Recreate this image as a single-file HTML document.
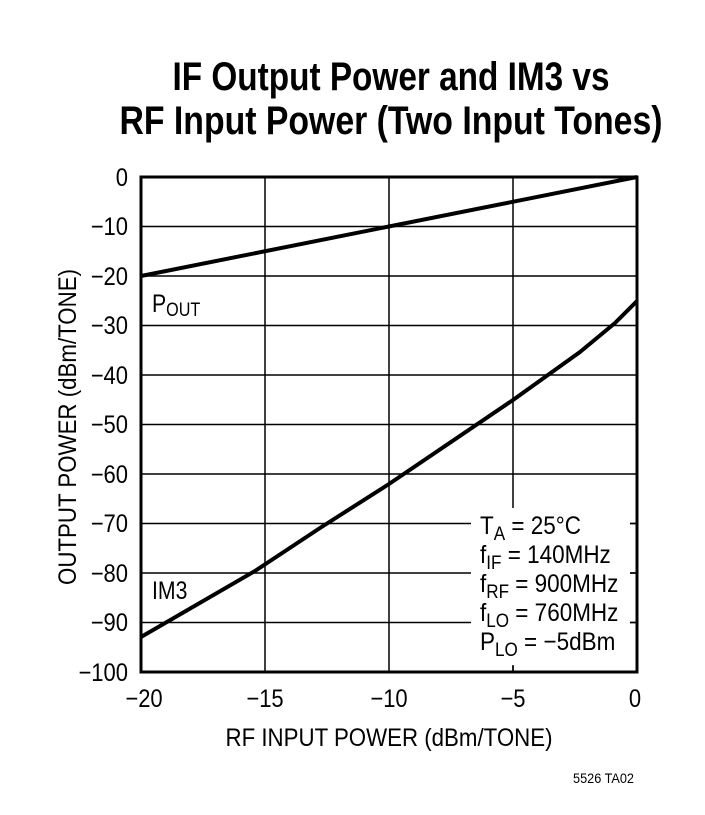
<!DOCTYPE html>
<html><head><meta charset="utf-8"><style>
html,body{margin:0;padding:0;background:#fff;}
svg{display:block;font-family:"Liberation Sans",sans-serif;}
</style></head><body>
<svg width="705" height="815" viewBox="0 0 705 815" xmlns="http://www.w3.org/2000/svg">
<rect width="705" height="815" fill="#fff"/>
<text x="391" y="90" text-anchor="middle" font-size="40" font-weight="bold" textLength="437" lengthAdjust="spacingAndGlyphs">IF Output Power and IM3 vs</text>
<text x="391" y="134" text-anchor="middle" font-size="40" font-weight="bold" textLength="543" lengthAdjust="spacingAndGlyphs">RF Input Power (Two Input Tones)</text>
<g stroke="#000" stroke-width="1.5">
<line x1="265" y1="177" x2="265" y2="672"/><line x1="389" y1="177" x2="389" y2="672"/><line x1="513" y1="177" x2="513" y2="672"/>
<line x1="141" y1="226.5" x2="637" y2="226.5"/><line x1="141" y1="276" x2="637" y2="276"/><line x1="141" y1="325.5" x2="637" y2="325.5"/>
<line x1="141" y1="375" x2="637" y2="375"/><line x1="141" y1="424.5" x2="637" y2="424.5"/><line x1="141" y1="474" x2="637" y2="474"/>
<line x1="141" y1="523.5" x2="637" y2="523.5"/><line x1="141" y1="573" x2="637" y2="573"/><line x1="141" y1="622.5" x2="637" y2="622.5"/>
</g>
<rect x="471" y="508" width="159" height="158" fill="#fff"/>
<g stroke="#000" stroke-width="1.5">
<line x1="630" y1="523.5" x2="637" y2="523.5"/><line x1="630" y1="573" x2="637" y2="573"/><line x1="630" y1="622.5" x2="637" y2="622.5"/>
<line x1="513" y1="665" x2="513" y2="672"/>
</g>
<rect x="141" y="177" width="496" height="495" fill="none" stroke="#000" stroke-width="3"/>
<polyline fill="none" stroke="#000" stroke-width="4" points="141,276 637,177"/>
<polyline fill="none" stroke="#000" stroke-width="4" stroke-linejoin="round" points="141,637 255,571 320,528 389,484 513,400 580,352 615,323 637,301"/>
<g font-size="25">
<g transform="translate(152,312) scale(0.85,1)"><text>P<tspan font-size="19" dy="4">OUT</tspan></text></g>
<g transform="translate(152,599) scale(0.85,1)"><text>IM3</text></g>
<g transform="translate(480,534) scale(0.9,1)"><text>T<tspan font-size="19" dy="6">A</tspan><tspan dy="-6"> = 25°C</tspan></text></g>
<g transform="translate(480,563) scale(0.9,1)"><text>f<tspan font-size="19" dy="6">IF</tspan><tspan dy="-6"> = 140MHz</tspan></text></g>
<g transform="translate(480,592) scale(0.9,1)"><text>f<tspan font-size="19" dy="6">RF</tspan><tspan dy="-6"> = 900MHz</tspan></text></g>
<g transform="translate(480,621) scale(0.9,1)"><text>f<tspan font-size="19" dy="6">LO</tspan><tspan dy="-6"> = 760MHz</tspan></text></g>
<g transform="translate(480,650) scale(0.9,1)"><text>P<tspan font-size="19" dy="6">LO</tspan><tspan dy="-6"> = −5dBm</tspan></text></g>
</g>
<g font-size="25" text-anchor="end">
<g transform="translate(128,186) scale(0.88,1)"><text>0</text></g>
<g transform="translate(128,235) scale(0.88,1)"><text>−10</text></g>
<g transform="translate(128,285) scale(0.88,1)"><text>−20</text></g>
<g transform="translate(128,334) scale(0.88,1)"><text>−30</text></g>
<g transform="translate(128,384) scale(0.88,1)"><text>−40</text></g>
<g transform="translate(128,433) scale(0.88,1)"><text>−50</text></g>
<g transform="translate(128,483) scale(0.88,1)"><text>−60</text></g>
<g transform="translate(128,532) scale(0.88,1)"><text>−70</text></g>
<g transform="translate(128,582) scale(0.88,1)"><text>−80</text></g>
<g transform="translate(128,631) scale(0.88,1)"><text>−90</text></g>
<g transform="translate(128,681) scale(0.88,1)"><text>−100</text></g>
</g>
<g font-size="25" text-anchor="middle">
<g transform="translate(144,707) scale(0.88,1)"><text>−20</text></g>
<g transform="translate(265,707) scale(0.88,1)"><text>−15</text></g>
<g transform="translate(389,707) scale(0.88,1)"><text>−10</text></g>
<g transform="translate(513,707) scale(0.88,1)"><text>−5</text></g>
<g transform="translate(635,707) scale(0.88,1)"><text>0</text></g>
<text x="389" y="746" textLength="327" lengthAdjust="spacingAndGlyphs">RF INPUT POWER (dBm/TONE)</text>
<text transform="translate(76,427) rotate(-90)" textLength="316" lengthAdjust="spacingAndGlyphs">OUTPUT POWER (dBm/TONE)</text>
</g>
<text x="634" y="783" text-anchor="end" font-size="14" textLength="61" lengthAdjust="spacingAndGlyphs">5526 TA02</text>
</svg>
</body></html>
